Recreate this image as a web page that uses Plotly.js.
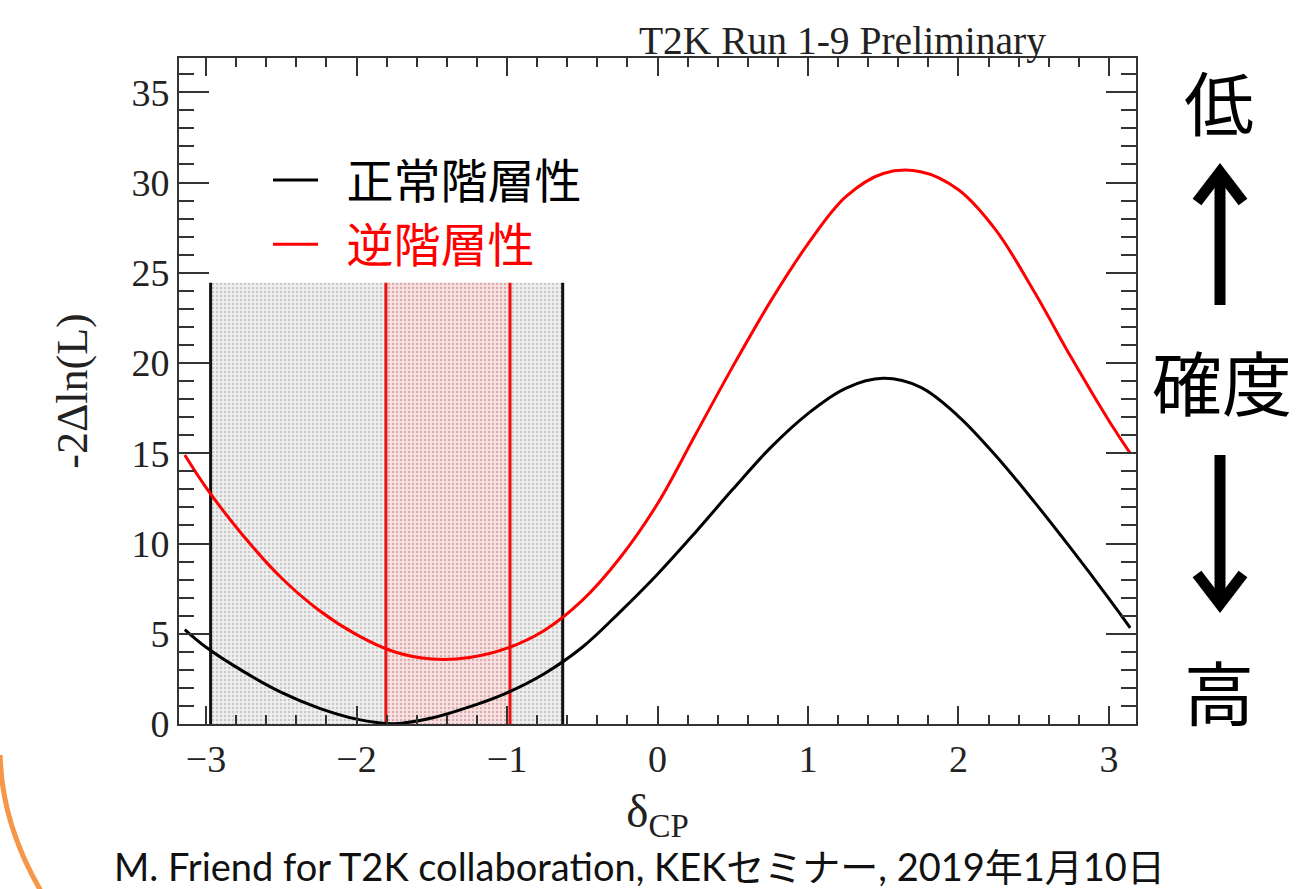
<!DOCTYPE html>
<html>
<head>
<meta charset="utf-8">
<script src="https://cdn.plot.ly/plotly-3.0.1.min.js"></script>
<style>
  html, body { margin: 0; padding: 0; background: #ffffff; }
  #chart { width: 1301px; height: 889px; }
</style>
</head>
<body>
<div id="chart"></div>
<script>
// ---- data ----
const deltaCP = [-3.1416, -3.0, -2.75, -2.5, -2.25, -2.0, -1.75, -1.5, -1.25, -1.0, -0.75, -0.5, -0.25, 0.0,
                 0.25, 0.5, 0.75, 1.0, 1.25, 1.5, 1.75, 2.0, 2.25, 2.5, 2.75, 3.0, 3.1416];
const normalHierarchy = [5.23, 4.25, 2.9, 1.75, 0.88, 0.27, 0.02, 0.33, 0.95, 1.73, 2.8, 4.25, 6.2, 8.3,
                         10.6, 13.0, 15.3, 17.2, 18.6, 19.15, 18.65, 17.05, 14.85, 12.35, 9.7, 6.95, 5.33];
const invertedHierarchy = [14.9, 13.1, 10.4, 8.1, 6.3, 4.95, 4.0, 3.6, 3.68, 4.2, 5.2, 6.85, 9.2, 12.2,
                           16.0, 19.8, 23.4, 26.6, 29.2, 30.5, 30.6, 29.6, 27.35, 24.0, 20.3, 16.8, 15.0];
const nhInterval = [-2.97, -0.63];   // black band edges
const ihInterval = [-1.805, -0.98];  // red band edges
const bandTop = 24.45;

const seriesNames = ['正常階層性', '逆階層性'];
const xTitle = 'δ<sub>CP</sub>';
const yTitle = '-2Δln(L)';
const plotTitle = 'T2K Run 1-9 Preliminary';
const sideLabels = ['低', '確度', '高'];
const caption = 'M. Friend for T2K collaboration, KEKセミナー, 2019年1月10日';

// ---- helpers ----
function bandTrace(iv, bg, fg) {
  return {
    x: [iv[0], iv[1], iv[1], iv[0], iv[0]],
    y: [0, 0, bandTop, bandTop, 0],
    mode: 'none', fill: 'toself', fillcolor: bg,
    fillpattern: { shape: '.', bgcolor: bg, fgcolor: fg, size: 4, solidity: 0.3 },
    showlegend: false, hoverinfo: 'skip'
  };
}
function vline(xv, color) {
  return {
    x: [xv, xv], y: [0, bandTop], mode: 'lines',
    line: { color: color, width: 3 }, showlegend: false, hoverinfo: 'skip'
  };
}

const traces = [
  bandTrace(nhInterval, '#f0f0f0', '#c8c8c8'),
  bandTrace(ihInterval, '#f7e3e3', '#dcaaaa'),
  vline(nhInterval[0], '#111'), vline(nhInterval[1], '#111'),
  vline(ihInterval[0], '#ee1111'), vline(ihInterval[1], '#ee1111'),
  {
    x: deltaCP, y: normalHierarchy, mode: 'lines', name: '\u2002' + seriesNames[0],
    line: { color: '#000000', width: 3, shape: 'spline', smoothing: 1 }, legendgroup: 'a'
  },
  {
    x: deltaCP, y: invertedHierarchy, mode: 'lines',
    name: '\u2002<span style="color:#ff0000">' + seriesNames[1] + '</span>',
    line: { color: '#ff0000', width: 3, shape: 'spline', smoothing: 1 }, legendgroup: 'b'
  }
];

const serif = 'Liberation Serif, Times New Roman, serif';
const cjk = 'Noto Sans CJK JP, sans-serif';
const axisCommon = {
  ticks: 'inside', tickwidth: 2, tickcolor: '#333',
  showline: true, linecolor: '#333', linewidth: 2, mirror: 'allticks',
  showgrid: false, zeroline: false,
  tickfont: { family: serif, size: 38, color: '#222' }
};

// paper coords helpers: plot area spans px 179..1136, py 58..724
const px = v => (v - 179) / 957;
const py = v => (724 - v) / 666;
const P = (a, b) => px(a) + ',' + py(b);

const arrowStyle = { color: '#000', width: 11 };

const layout = {
  width: 1301, height: 889,
  margin: { l: 179, r: 165, t: 58, b: 165 },
  paper_bgcolor: '#ffffff', plot_bgcolor: '#ffffff',
  showlegend: true,
  legend: {
    x: px(268), y: py(143), xanchor: 'left', yanchor: 'top',
    bgcolor: 'rgba(255,255,255,0)', borderwidth: 0,
    font: { family: cjk, size: 47, color: '#000' },
    itemwidth: 45, tracegroupgap: 0
  },
  title: {
    text: plotTitle, xref: 'paper', x: px(1046), xanchor: 'right',
    yref: 'container', y: 1 - 40 / 889, yanchor: 'middle',
    font: { family: serif, size: 39.5, color: '#222' }
  },
  xaxis: Object.assign({}, axisCommon, {
    range: [-3.18, 3.18], tick0: 0, dtick: 1, ticklen: 18,
    minor: { dtick: 0.2, ticks: 'inside', ticklen: 9, tickwidth: 2, tickcolor: '#333', showgrid: false },
    title: { text: xTitle, font: { family: serif, size: 47, color: '#222' }, standoff: 16 }
  }),
  yaxis: Object.assign({}, axisCommon, {
    range: [0, 36.9], tick0: 0, dtick: 5, ticklen: 30,
    minor: { dtick: 1, ticks: 'inside', ticklen: 15, tickwidth: 2, tickcolor: '#333', showgrid: false },
    title: { text: yTitle, font: { family: serif, size: 44, color: '#222' }, standoff: 30 }
  }),
  shapes: [
    // decorative orange arc of the slide
    { type: 'path', xref: 'paper', yref: 'paper',
      path: 'M' + P(0.18, 755) + ' Q' + P(1.5, 825) + ' ' + P(43.2, 895),
      line: { color: '#f79646', width: 5 } },
    // up arrow
    { type: 'line', xref: 'paper', yref: 'paper', x0: px(1220), y0: py(305), x1: px(1220), y1: py(176), line: arrowStyle },
    { type: 'path', xref: 'paper', yref: 'paper', path: 'M' + P(1197, 202) + ' L' + P(1220, 172) + ' L' + P(1243, 202), line: arrowStyle },
    // down arrow
    { type: 'line', xref: 'paper', yref: 'paper', x0: px(1220), y0: py(455), x1: px(1220), y1: py(600), line: arrowStyle },
    { type: 'path', xref: 'paper', yref: 'paper', path: 'M' + P(1197, 574) + ' L' + P(1220, 604) + ' L' + P(1243, 574), line: arrowStyle }
  ],
  annotations: [
    { xref: 'paper', yref: 'paper', x: px(1219), y: py(100), xanchor: 'center', yanchor: 'middle',
      text: sideLabels[0], showarrow: false, font: { family: cjk, size: 70, color: '#000' } },
    { xref: 'paper', yref: 'paper', x: px(1222), y: py(380), xanchor: 'center', yanchor: 'middle',
      text: sideLabels[1], showarrow: false, font: { family: cjk, size: 70, color: '#000' } },
    { xref: 'paper', yref: 'paper', x: px(1219), y: py(690), xanchor: 'center', yanchor: 'middle',
      text: sideLabels[2], showarrow: false, font: { family: cjk, size: 70, color: '#000' } },
    { xref: 'paper', yref: 'paper', x: px(639), y: py(866), xanchor: 'center', yanchor: 'middle',
      text: caption, showarrow: false,
      font: { family: 'Lato, Noto Sans CJK JP, sans-serif', size: 38, color: '#111' } }
  ]
};

Plotly.newPlot('chart', traces, layout, { displayModeBar: false, staticPlot: true });
</script>
</body>
</html>
